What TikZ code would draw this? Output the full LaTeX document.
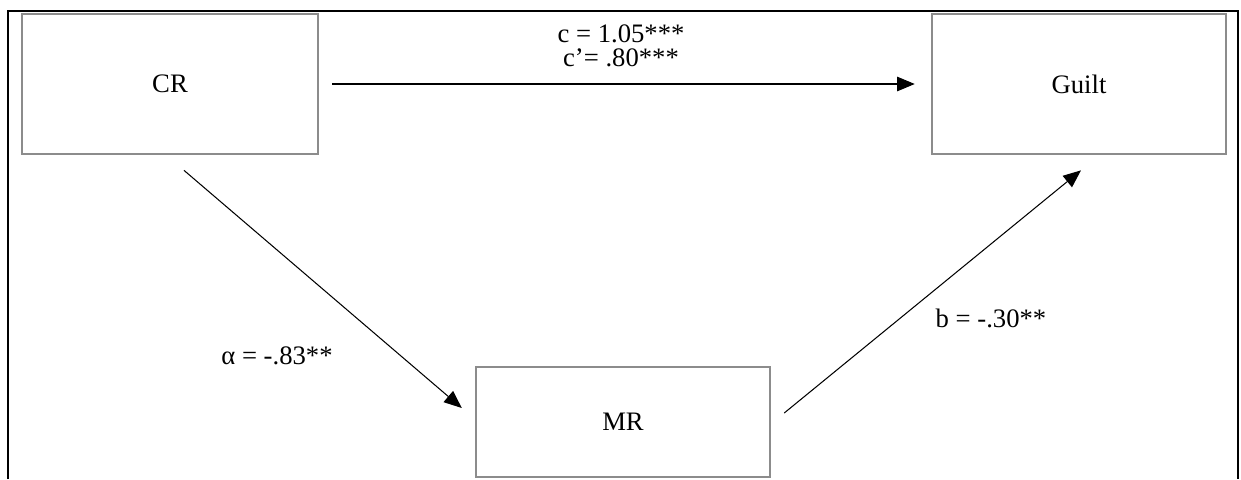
\documentclass[tikz,border=0pt]{standalone}
\usepackage{fontspec}
\setmainfont{Liberation Serif}
\usetikzlibrary{arrows.meta,calc}

\definecolor{boxgray}{HTML}{8C8C8C}

\tikzset{
  varbox/.style={draw=boxgray, line width=1.3pt, fill=white, inner sep=0pt,
    font=\fontsize{12.8}{14}\selectfont},
  path arrow/.style={line width=0.5pt, -{Triangle[length=8.5pt,width=7pt]}},
  coef/.style={font=\fontsize{12.8}{11.8}\selectfont, align=center, inner sep=0pt},
  frame line/.style={line width=1pt}
}

\begin{document}
\begin{tikzpicture}[x=0.48pt, y=-0.48pt]
  \useasboundingbox (0,0) rectangle (1241,479);

  % open frame around the model
  \draw[frame line] (8,479) -- (8,11) -- (1238,11) -- (1238,479);

  % variables
  \node[varbox, minimum width=142pt, minimum height=67.2pt] (CR) at (170,84) {CR};
  \node[varbox, minimum width=141pt, minimum height=67.2pt] (Guilt) at (1079,84) {Guilt};
  \node[varbox, minimum width=141pt, minimum height=52.8pt] (MR) at (623,422) {MR};

  % paths
  \draw[path arrow, shorten <=6.2pt, shorten >=7.7pt] (CR.east) -- (Guilt.west);
  \coordinate (aStart) at ($(CR.south)+(14,15)$);
  \coordinate (aEnd)   at ($(MR.west)+(-13,-14)$);
  \draw[path arrow] (aStart) -- (aEnd);
  \coordinate (bStart) at ($(MR.east)+(13,-9)$);
  \coordinate (bEnd)   at ($(Guilt.south)+(2,15)$);
  \draw[path arrow] (bStart) -- (bEnd);

  % coefficients
  \node[coef] (clab) at (621,46) {c = 1.05***\\c’= .80***};
  \node[coef] (alab) at (277,356) {α = -.83**};
  \node[coef] (blab) at (991,318) {b = -.30**};
\end{tikzpicture}
\end{document}
